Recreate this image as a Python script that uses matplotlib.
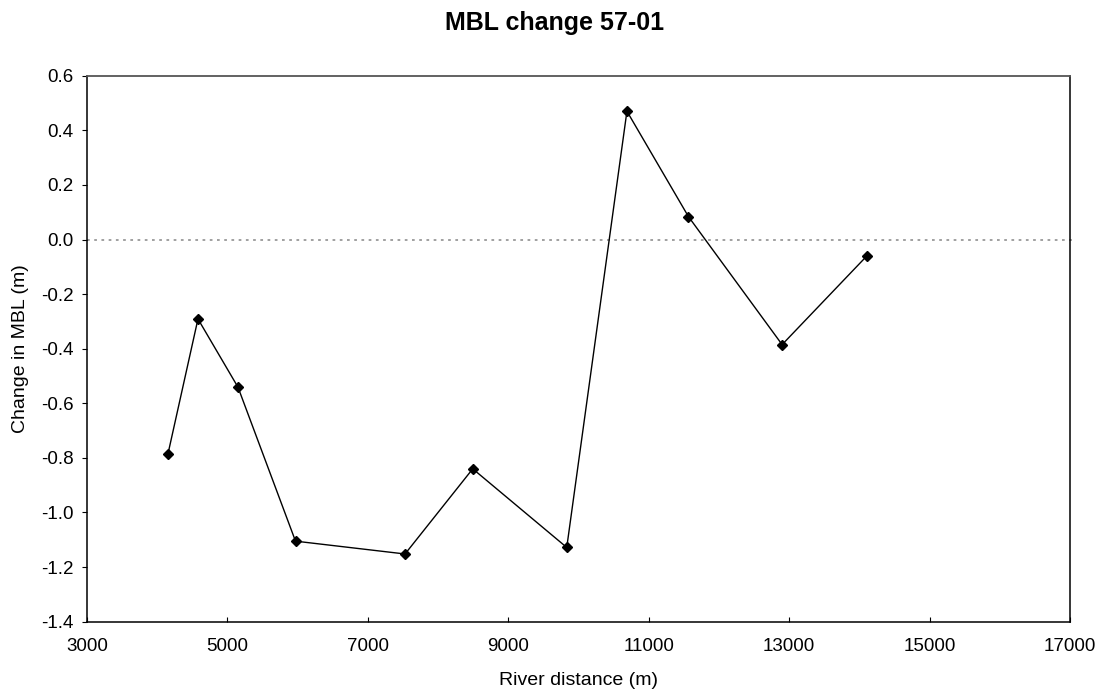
import matplotlib.pyplot as plt
from matplotlib.ticker import FormatStrFormatter

plt.rcParams['font.family'] = ['Liberation Sans', 'DejaVu Sans']

# datos
distancia = [4154, 4581, 5151, 5970, 7530, 8494, 9833, 10690, 11566, 12900, 14111]
cambio_mbl = [-0.785, -0.291, -0.541, -1.105, -1.152, -0.840, -1.128, 0.470, 0.084, -0.385, -0.059]
x_ticks = [3000, 5000, 7000, 9000, 11000, 13000, 15000, 17000]
y_ticks = [-1.4, -1.2, -1.0, -0.8, -0.6, -0.4, -0.2, 0.0, 0.2, 0.4, 0.6]

fig = plt.figure(figsize=(10.98, 6.95), dpi=100)
ax = fig.add_axes([0.0792, 0.1055, 0.8953, 0.7855])

# linea de cero punteada
ax.axhline(0, xmin=0, xmax=1.006, color='#999999', lw=1.3,
           linestyle=(0, (1.5, 2.5)), clip_on=False, zorder=1)

ax.plot(distancia, cambio_mbl, color='black', lw=1.0, marker='D',
        markersize=5, markerfacecolor='black', zorder=3)

ax.set_xlim(3000, 17000)
ax.set_ylim(-1.4, 0.6)
ax.set_xticks(x_ticks)
ax.set_yticks(y_ticks)
ax.yaxis.set_major_formatter(FormatStrFormatter('%.1f'))

ax.tick_params(axis='x', direction='in', length=3.6, width=0.8, labelsize=13.5, pad=12)
ax.tick_params(axis='y', direction='out', length=3.6, width=0.8, labelsize=13.5, pad=6)

for lado in ['left', 'bottom', 'right']:
    ax.spines[lado].set_color('black')
    ax.spines[lado].set_linewidth(1.1)
ax.spines['top'].set_color('#555555')
ax.spines['top'].set_linewidth(1.3)

# titulo centrado en la figura (como en excel)
fig.text(555 / 1098, 1 - 30 / 695, "MBL change 57-01", fontsize=18,
         fontweight='bold', ha='center', va='baseline')
ax.set_xlabel("River distance (m)", fontsize=14, labelpad=12)
ax.set_ylabel("Change in MBL (m)", fontsize=14, labelpad=9)

fig.savefig('out.png', dpi=100)
